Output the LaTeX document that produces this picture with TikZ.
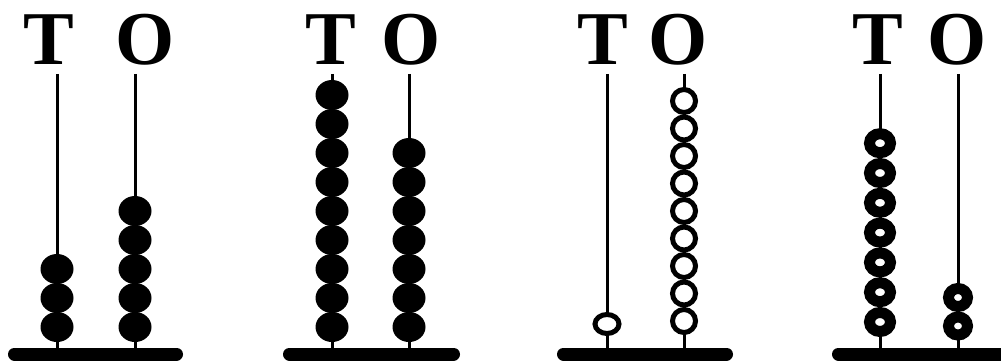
\documentclass[tikz,border=0pt]{standalone}
\usepackage{fontspec}
\setmainfont{Liberation Serif}
\usetikzlibrary{positioning,shapes}
\tikzstyle{placename} = [font=\fontsize{76}{76}\selectfont\bfseries,
    inner sep=0pt, anchor=base]
\tikzstyle{rod} = [line width=3pt]
\tikzstyle{abbase} = [line width=13pt, line cap=round]
\tikzstyle{bead} = [fill=black, ellipse, inner sep=0pt,
    minimum width=33pt, minimum height=30pt]
\tikzstyle{hollowbead} = [draw, line width=5pt, fill=white, ellipse, inner sep=0pt,
    minimum width=23pt, minimum height=23pt]
\tikzstyle{ringbead} = [draw, line width=11pt, fill=white, ellipse, inner sep=0pt,
    minimum width=21pt, minimum height=19pt]

\begin{document}
\begin{tikzpicture}[x=1pt, y=-1pt]
    \useasboundingbox (0,0) rectangle (1001,361);
    % labels
    \node [placename] (t1) at (49,64) {T};
    \node [placename] (o1) at (145,64) {O};
    \node [placename] (t2) at (331,64) {T};
    \node [placename] (o2) at (411,64) {O};
    \node [placename] (t3) at (603,64) {T};
    \node [placename] (o3) at (678,64) {O};
    \node [placename] (t4) at (878,64) {T};
    \node [placename] (o4) at (957,64) {O};
    % rods
    \foreach \x in {57,135,332,409,607,684,880,958}
        \draw [rod] (\x,74) -- (\x,350);
    % first abacus: 3 and 5
    \foreach \i in {0,...,2}
        \node [bead] (bt1\i) at (57,{327-29*\i}) {};
    \foreach \i in {0,...,4}
        \node [bead] (bo1\i) at (135,{327-29*\i}) {};
    % second abacus: 9 and 7
    \foreach \i in {0,...,8}
        \node [bead] (bt2\i) at (332,{327-29*\i}) {};
    \foreach \i in {0,...,6}
        \node [bead] (bo2\i) at (409,{327-29*\i}) {};
    % third abacus: 1 and 9
    \node [hollowbead, minimum width=24pt, minimum height=19pt] (bt30) at (607,324) {};
    \foreach \i in {0,...,8}
        \node [hollowbead] (bo3\i) at (684,{321-27.5*\i}) {};
    % fourth abacus: 7 and 2
    \foreach \i in {0,...,6}
        \node [ringbead] (bt4\i) at (880,{322-29.8*\i}) {};
    \foreach \i in {0,1}
        \node [ringbead, minimum width=19pt, minimum height=18pt] (bo4\i) at (958,{326-28.5*\i}) {};
    % bases
    \draw [abbase] (14.5,354) -- (176.5,354);
    \draw [abbase] (289.5,354) -- (453.5,354);
    \draw [abbase] (563.5,354) -- (726.5,354);
    \draw [abbase] (838.5,354) -- (1010,354);
\end{tikzpicture}
\end{document}
